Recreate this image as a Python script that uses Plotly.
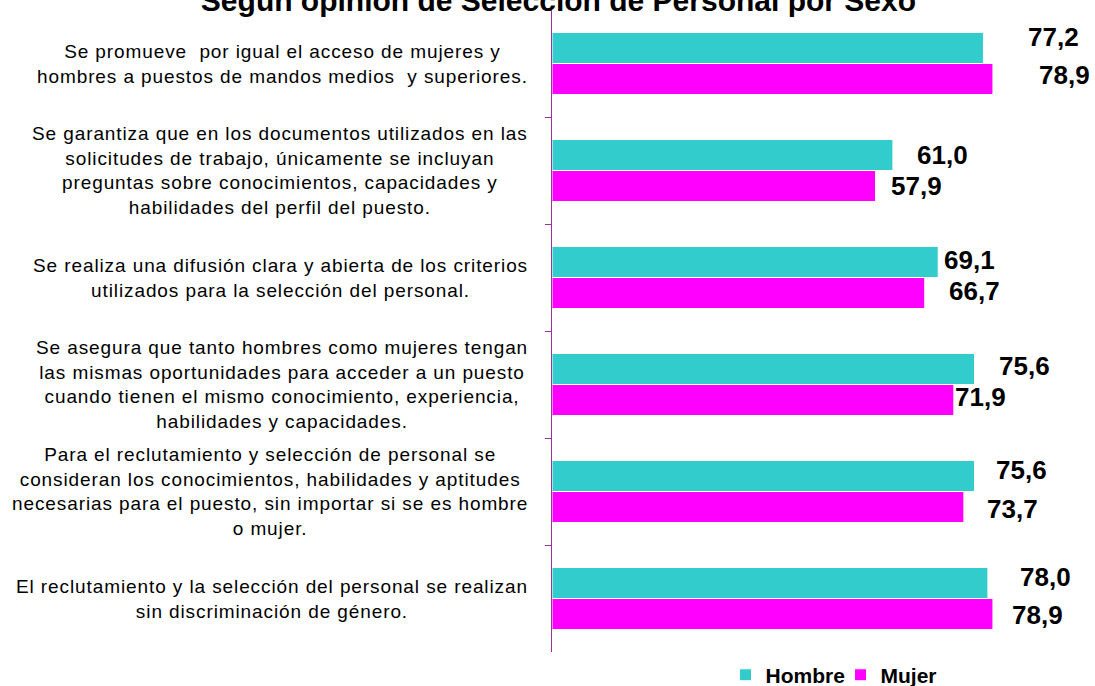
import plotly.graph_objects as go

# categories (top to bottom) and values
categorias = [
    "Se promueve  por igual el acceso de mujeres y<br>hombres a puestos de mandos medios  y superiores.",
    "Se garantiza que en los documentos utilizados en las<br>solicitudes de trabajo, únicamente se incluyan<br>preguntas sobre conocimientos, capacidades y<br>habilidades del perfil del puesto.",
    "Se realiza una difusión clara y abierta de los criterios<br>utilizados para la selección del personal.",
    "Se asegura que tanto hombres como mujeres tengan<br>las mismas oportunidades para acceder a un puesto<br>cuando tienen el mismo conocimiento, experiencia,<br>habilidades y capacidades.",
    "Para el reclutamiento y selección de personal se<br>consideran los conocimientos, habilidades y aptitudes<br>necesarias para el puesto, sin importar si se es hombre<br>o mujer.",
    "El reclutamiento y la selección del personal se realizan<br>sin discriminación de género.",
]
hombre = [77.2, 61.0, 69.1, 75.6, 75.6, 78.0]
mujer = [78.9, 57.9, 66.7, 71.9, 73.7, 78.9]

titulo = "Según opinión de Selección de Personal por Sexo"

# label nudges (px) as placed by hand in the original
shift_h = [(43, 11), (22, 0), (4, 2), (22, 3), (19, 6), (30, 6)]
shift_m = [(44, 4), (13, 0), (22, 2), (-1, 3), (21, -2), (17, -1)]

FONT = "Liberation Sans, Arial, sans-serif"
BARGAP = 0.42
AXIS_COL = "#993399"


def fmt(v):
    return f"{v:.1f}".replace(".", ",")


def spaced(txt):
    # the original text is set with loose tracking
    return "<br>".join(f"<span style='letter-spacing:0.9px'>{ln}</span>"
                       for ln in txt.split("<br>"))


fig = go.Figure()
fig.add_trace(go.Bar(
    y=categorias, x=hombre, name="Hombre", orientation="h",
    marker=dict(color="#33CCCC", line=dict(color="white", width=1)),
))
fig.add_trace(go.Bar(
    y=categorias, x=mujer, name="Mujer", orientation="h",
    marker=dict(color="#FF00FF", line=dict(color="white", width=1)),
))

# category labels, centred lines, block right-aligned near the axis
for i, cat in enumerate(categorias):
    fig.add_annotation(
        text=spaced(cat), xref="paper", yref="y", x=-0.044, y=i,
        xanchor="right", yanchor="middle", align="center", showarrow=False,
        font=dict(family=FONT, size=19, color="black"),
    )

# value labels
off = (1 - BARGAP) / 4
for i in range(len(categorias)):
    for vals, shifts, d in ((hombre, shift_h, -off), (mujer, shift_m, off)):
        fig.add_annotation(
            text=f"<b>{fmt(vals[i])}</b>", x=vals[i], y=i + d,
            xref="x", yref="y", xanchor="left", yanchor="middle",
            xshift=shifts[i][0], yshift=shifts[i][1], showarrow=False,
            font=dict(family=FONT, size=26, color="black"),
        )

fig.update_layout(
    width=1095, height=686,
    margin=dict(l=552, r=40, t=10, b=34, autoexpand=False),
    paper_bgcolor="white", plot_bgcolor="white",
    barmode="group", bargap=BARGAP, bargroupgap=0,
    font=dict(family=FONT, color="black"),
    title=dict(
        text=f"<b>{titulo}</b>", x=0.51, xref="container", xanchor="center",
        y=1.0, yref="container", yanchor="middle",
        font=dict(family=FONT, size=30, color="black"),
    ),
    xaxis=dict(visible=False, range=[0, 90]),
    yaxis=dict(
        autorange="reversed", showticklabels=False, showgrid=False,
        showline=True, linecolor=AXIS_COL, linewidth=1,
        ticks="outside", tickson="boundaries", ticklen=6, tickcolor=AXIS_COL,
    ),
    legend=dict(
        orientation="h", x=0.345, xanchor="left", y=-0.036, yanchor="middle",
        itemwidth=30, entrywidth=70,
        font=dict(family=FONT, size=21, color="black", weight="bold"),
        bgcolor="rgba(0,0,0,0)",
    ),
)

fig.write_html("out.html", config={"displayModeBar": False},
               post_script="document.body.style.margin='0';")
